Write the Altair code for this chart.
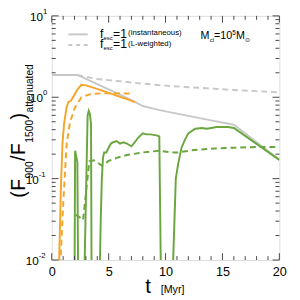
import altair as alt
import pandas as pd

W, H = 234, 251
FONT = "Liberation Sans"

# ---------------- data ----------------
gray_t = [0, 2.25, 3, 4, 5, 6, 7, 8, 9, 10, 12, 14, 16, 20]
gray_v = [1.88, 1.88, 1.68, 1.45, 1.25, 1.08, 0.92, 0.78, 0.72, 0.67, 0.59, 0.52, 0.46, 0.17]

grayd_t = [2.25, 3, 4, 6, 8, 10, 12, 14, 16, 18, 20]
grayd_v = [1.88, 1.78, 1.68, 1.57, 1.47, 1.39, 1.33, 1.28, 1.23, 1.19, 1.15]

orange_t = [0.6, 0.65, 0.8, 0.94, 1.08, 1.3, 1.45, 1.7, 2.0, 2.3, 2.6, 3.0, 3.5, 4.5, 5.5, 6.5, 7.3]
orange_v = [0.005, 0.01, 0.075, 0.27, 0.47, 0.75, 0.87, 0.91, 1.08, 1.27, 1.42, 1.40, 1.33, 1.2, 1.07, 0.96, 0.87]

oranged_t = [0.7, 0.8, 1.03, 1.31, 1.6, 2.02, 2.6, 3.45, 4.5, 5.5, 7.0]
oranged_v = [0.005, 0.012, 0.057, 0.27, 0.49, 0.74, 1.0, 1.1, 1.12, 1.12, 1.11]

green_t = [2.0, 2.05, 2.25, 2.32, 2.85, 3.15, 3.25, 3.35, 3.45, 3.5, 4.2, 4.3, 4.4, 4.5,
           4.6, 4.8, 5.0, 5.2, 5.4, 5.7, 6.0, 6.3, 6.6, 7.0, 7.3, 7.6, 8.0, 8.3, 8.7, 9.2,
           9.45, 9.6, 10.6, 10.9, 11.1, 11.4, 11.7, 12.0, 12.6, 13.2, 13.6, 14.0, 14.5,
           15.0, 15.5, 16.0, 20.0]
green_v = [0.005, 0.22, 0.16, 0.005, 0.005, 0.6, 0.68, 0.62, 0.47, 0.005, 0.005, 0.03, 0.1, 0.18,
           0.21, 0.21, 0.24, 0.27, 0.28, 0.29, 0.27, 0.28, 0.27, 0.25, 0.28, 0.32, 0.36, 0.35, 0.35, 0.34,
           0.33, 0.005, 0.005, 0.1, 0.15, 0.24, 0.3, 0.36, 0.41, 0.42, 0.41, 0.42, 0.43,
           0.43, 0.43, 0.42, 0.17]

greend_t = [2.1, 2.4, 2.75, 3.3, 3.7, 4.4, 5.0, 5.7, 6.6, 8.0, 9.4, 10.5, 11.1, 12.5, 14.3, 16, 18, 20]
greend_v = [0.036, 0.034, 0.031, 0.163, 0.168, 0.145, 0.165, 0.18, 0.195, 0.21, 0.22, 0.21, 0.21,
            0.225, 0.235, 0.24, 0.245, 0.245]

x_major = [0, 5, 10, 15, 20]
x_minor = [i for i in range(21) if i % 5 != 0]
y_major = [0.01, 0.1, 1, 10]
y_minor = [k * 10.0 ** e for e in (-2, -1, 0) for k in range(2, 10)]
y_lab_pos = [10, 1]
y_lab_pos_exp = ["1", "0"]
y_lab_neg = [0.1, 0.01]
y_lab_neg_exp = ["-1", "-2"]

GRAY, ORANGE, GREEN = "#c8c8c8", "#f4a52a", "#6aa63e"
FRAME = "#444444"

xs = alt.Scale(domain=[0, 20], nice=False, zero=False)
ys = alt.Scale(type="log", domain=[0.01, 10], nice=False)
XAXIS = alt.Axis(values=x_major, format="d", ticks=False, tickSize=0, domain=False, grid=False,
                 labelFontSize=13, labelPadding=6, labelColor="black", title=None, labelFont=FONT,
                 labelOverlap=False, labelFlush=False, labelBound=False)


def X(field="t:Q"):
    return alt.X(field, scale=xs, axis=XAXIS)


def Y(field="v:Q"):
    return alt.Y(field, scale=ys, axis=None)


def line(t, v, color, dashed=False):
    df = pd.DataFrame({"t": t, "v": v})
    kw = dict(color=color, strokeWidth=2, clip=True)
    if dashed:
        kw["strokeDash"] = [6, 4]
    return alt.Chart(df).mark_line(**kw).encode(x=X(), y=Y())


layers = [
    line(gray_t, gray_v, GRAY),
    line(grayd_t, grayd_v, GRAY, True),
    line(greend_t, greend_v, GREEN, True),
    line(green_t, green_v, GREEN),
    line(oranged_t, oranged_v, ORANGE, True),
    line(orange_t, orange_v, ORANGE),
]


# inward ticks
def yticks(vals, length):
    df = pd.DataFrame({"v": vals})
    base = alt.Chart(df).mark_rule(color=FRAME, strokeWidth=1)
    return [
        base.encode(y=Y(), x=alt.value(0), x2=alt.value(length)),
        base.encode(y=Y(), x=alt.value(W), x2=alt.value(W - length)),
    ]


def xticks(vals, length):
    df = pd.DataFrame({"t": vals})
    base = alt.Chart(df).mark_rule(color=FRAME, strokeWidth=1)
    return [
        base.encode(x=X(), y=alt.value(H), y2=alt.value(H - length)),
        base.encode(x=X(), y=alt.value(0), y2=alt.value(length)),
    ]


layers += yticks(y_major, 7) + yticks(y_minor, 4) + xticks(x_major, 7) + xticks(x_minor, 4)


# y tick labels 10^n
def ylabels(vals, exps, xr):
    df = pd.DataFrame({"v": vals, "e": exps, "b": ["10"] * len(vals)})
    base = alt.Chart(df)
    return [
        base.mark_text(align="right", baseline="middle", fontSize=12, font=FONT, color="black", dy=1).encode(
            y=Y(), x=alt.value(xr), text="b:N"),
        base.mark_text(align="left", baseline="middle", fontSize=8, font=FONT, color="black", dy=-4).encode(
            y=Y(), x=alt.value(xr), text="e:N"),
    ]


layers += ylabels(y_lab_pos, y_lab_pos_exp, -9) + ylabels(y_lab_neg, y_lab_neg_exp, -13.5)


def txt(s, x, y, size, angle=None, align="left"):
    kw = dict(align=align, baseline="alphabetic", fontSize=size, font=FONT, color="black")
    if angle is not None:
        kw["angle"] = angle
    return alt.Chart(pd.DataFrame({"s": [s]})).mark_text(**kw).encode(
        x=alt.value(x), y=alt.value(y), text="s:N")


# y title pieces, rotated
big, sub = 20, 10.5
pieces = [("(", big, 0.333), ("F", big, 0.611), ("900", sub, 1.668), ("/", big, 0.278),
          ("F", big, 0.611), ("1500", sub, 2.224), (")", big, 0.333), ("attenuated", sub, 4.726)]
ypos = 187
for s, size, em in pieces:
    xb = -28 if size == big else -19.5
    layers.append(txt(s, xb, ypos, size, angle=270))
    ypos -= em * size + 0.5

# x title
layers.append(txt("t", 96, 285, 21))
layers.append(txt("[Myr]", 112, 285, 11))

# legend
leg1 = alt.Chart(pd.DataFrame({"a": [0]})).mark_rule(color=GRAY, strokeWidth=2).encode(
    x=alt.value(17), x2=alt.value(37), y=alt.value(19))
leg2 = alt.Chart(pd.DataFrame({"a": [0]})).mark_rule(color=GRAY, strokeWidth=2, strokeDash=[4, 4]).encode(
    x=alt.value(17), x2=alt.value(37), y=alt.value(30))
layers += [leg1, leg2]
for yb, extra in [(22.5, "(instantaneous)"), (33, "(L-weighted)")]:
    layers.append(txt("f", 49.5, yb, 12.5))
    layers.append(txt("esc", 53.2, yb + 2, 6))
    layers.append(txt("=1", 63, yb, 12.5))
    layers.append(txt(extra, 78.5, yb - 2.5, 8))

# M_cl = 10^5 M_sun
layers.append(txt("M", 153, 24, 11))
layers.append(txt("cl", 162.4, 27, 6))
layers.append(txt("=10", 166.8, 24, 11))
layers.append(txt("5", 185.5, 19.5, 6.5))
layers.append(txt("M", 189.3, 24, 11))
layers.append(txt("⊙", 198.6, 27, 6.5))

chart = alt.layer(*layers).properties(
    width=W, height=H,
    autosize=alt.AutoSizeParams(type="none"),
    padding={"left": 45, "top": 4, "right": 13, "bottom": 37},
).configure_view(stroke=FRAME, strokeWidth=1).configure(background="white")

chart.save("out.html", embed_options={"renderer": "svg", "actions": False})
